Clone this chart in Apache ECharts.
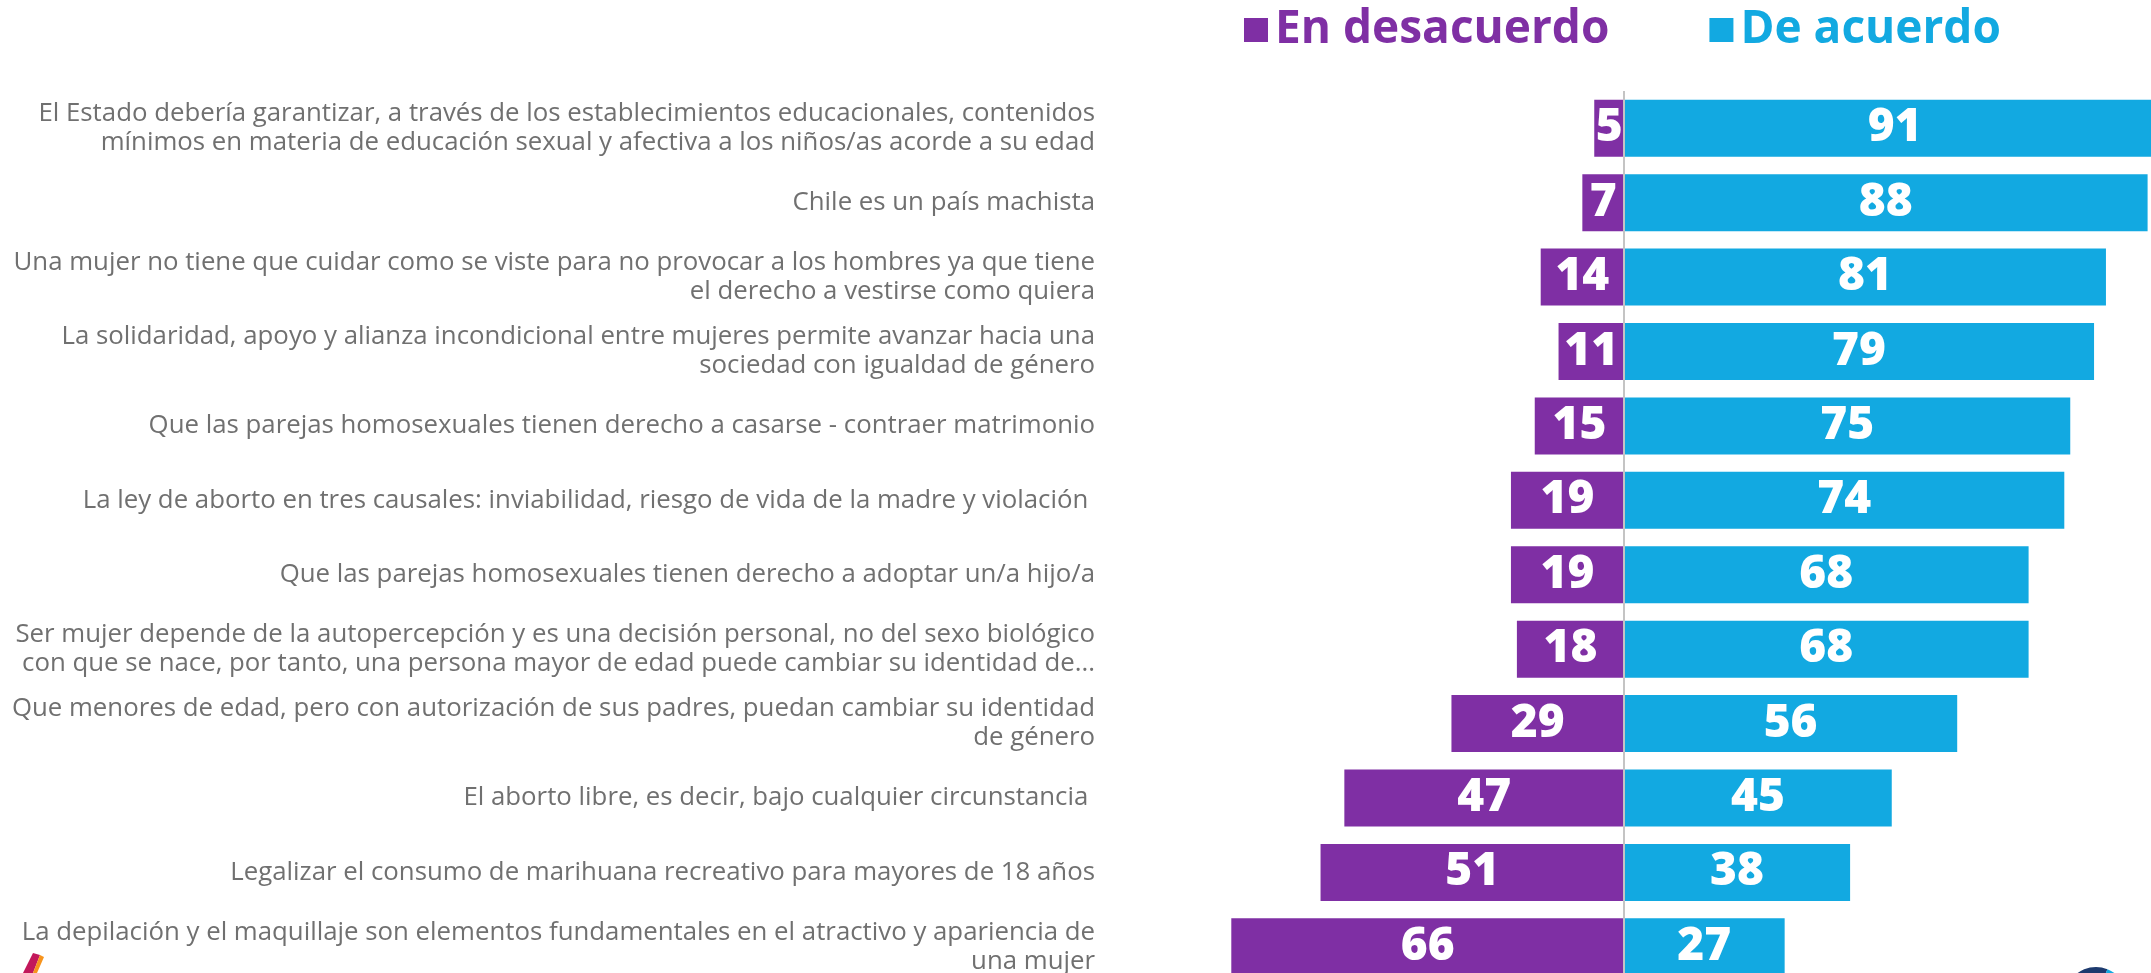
<!DOCTYPE html>
<html>
<head>
<meta charset="utf-8">
<script src="https://cdn.jsdelivr.net/npm/echarts@6/dist/echarts.min.js"></script>
<style>
  html, body { margin: 0; padding: 0; background: #fff; }
  #chart { width: 2151px; height: 973px; }
</style>
</head>
<body>
<div id="chart"></div>
<script>
// afirmaciones (de arriba hacia abajo)
const categories = [
  'El Estado debería garantizar, a través de los establecimientos educacionales, contenidos\nmínimos en materia de educación sexual y afectiva a los niños/as acorde a su edad',
  'Chile es un país machista',
  'Una mujer no tiene que cuidar como se viste para no provocar a los hombres ya que tiene\nel derecho a vestirse como quiera',
  'La solidaridad, apoyo y alianza incondicional entre mujeres permite avanzar hacia una\nsociedad con igualdad de género',
  'Que las parejas homosexuales tienen derecho a casarse - contraer matrimonio',
  'La ley de aborto en tres causales: inviabilidad, riesgo de vida de la madre y violación ',
  'Que las parejas homosexuales tienen derecho a adoptar un/a hijo/a',
  'Ser mujer depende de la autopercepción y es una decisión personal, no del sexo biológico\ncon que se nace, por tanto, una persona mayor de edad puede cambiar su identidad de...',
  'Que menores de edad, pero con autorización de sus padres, puedan cambiar su identidad\nde género',
  'El aborto libre, es decir, bajo cualquier circunstancia ',
  'Legalizar el consumo de marihuana recreativo para mayores de 18 años',
  'La depilación y el maquillaje son elementos fundamentales en el atractivo y apariencia de\nuna mujer'
];
const enDesacuerdo = [5, 7, 14, 11, 15, 19, 19, 18, 29, 47, 51, 66];
const deAcuerdo = [91, 88, 81, 79, 75, 74, 68, 68, 56, 45, 38, 27];

const purple = '#7f2fa4';
const blue = '#12a9e1';

const chart = echarts.init(document.getElementById('chart'));

const valueLabel = {
  show: true,
  position: 'inside',
  color: '#fff',
  fontFamily: 'Open Sans',
  fontWeight: 800,
  fontSize: 46,
  formatter: p => Math.abs(p.value)
};

chart.setOption({
  animation: false,
  backgroundColor: '#fff',
  legend: {
    left: 1239,
    top: 2,
    icon: 'rect',
    itemWidth: 24,
    itemHeight: 24,
    itemGap: 100,
    textStyle: { fontFamily: 'Open Sans', fontWeight: 'bold', fontSize: 46, padding: [0, 0, 0, 2] },
    data: [
      { name: 'En desacuerdo', textStyle: { color: purple } },
      { name: 'De acuerdo', textStyle: { color: blue } }
    ]
  },
  // logos recortados en las esquinas inferiores
  graphic: [
    { type: 'polygon', silent: true, shape: { points: [[33, 953], [40, 955], [33, 973], [23, 973]] }, style: { fill: '#c2185b' } },
    { type: 'polygon', silent: true, shape: { points: [[40, 955], [44, 957], [37, 973], [33, 973]] }, style: { fill: '#f7941d' } },
    { type: 'sector', silent: true, shape: { cx: 2096, cy: 998, r: 31, startAngle: Math.PI, endAngle: Math.PI * 1.62 }, style: { fill: '#1d3a6e' } },
    { type: 'sector', silent: true, shape: { cx: 2096, cy: 998, r: 31, startAngle: Math.PI * 1.62, endAngle: Math.PI * 2 }, style: { fill: '#12a9e1' } }
  ],
  // la rejilla sigue más allá del borde derecho e inferior (recortada como el original)
  grid: { left: 1148, width: 1071, top: 91, height: 893, containLabel: false, outerBoundsMode: 'none' },
  xAxis: {
    type: 'value',
    min: -80,
    max: 100,
    show: false
  },
  yAxis: {
    type: 'category',
    inverse: true,
    data: categories,
    axisLine: { show: false },
    axisTick: { show: false },
    splitLine: { show: false },
    axisLabel: {
      margin: 53,
      color: '#707070',
      fontFamily: 'Open Sans',
      fontSize: 25.8,
      lineHeight: 29
    }
  },
  series: [
    {
      name: 'En desacuerdo',
      type: 'bar',
      barWidth: 57,
      barGap: '-100%',
      itemStyle: { color: purple },
      label: valueLabel,
      data: enDesacuerdo.map(v => -v)
    },
    {
      name: 'De acuerdo',
      type: 'bar',
      barWidth: 57,
      barGap: '-100%',
      itemStyle: { color: blue },
      label: valueLabel,
      data: deAcuerdo,
      markLine: {
        silent: true,
        symbol: 'none',
        label: { show: false },
        lineStyle: { color: '#c4c4c4', width: 2, type: 'solid' },
        data: [{ xAxis: 0 }]
      }
    }
  ]
});
</script>
</body>
</html>
